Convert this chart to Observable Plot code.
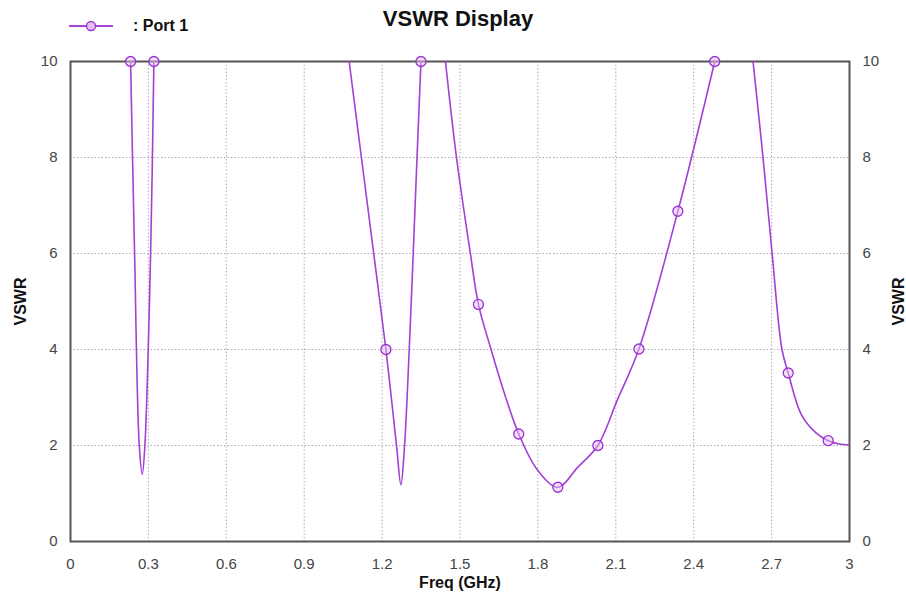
<!DOCTYPE html>
<html>
<head>
<meta charset="utf-8">
<script src="https://cdn.jsdelivr.net/npm/d3@7"></script>
<script src="https://cdn.jsdelivr.net/npm/@observablehq/plot@0.6"></script>
<style>
  html, body { margin: 0; padding: 0; background: #fff; }
  #wrap { position: relative; width: 906px; height: 596px; font-family: "Liberation Sans", Arial, sans-serif; }
  #title { position: absolute; left: 0; width: 916px; top: 6px; text-align: center; font-size: 22px; font-weight: bold; color: #111; }
  #legend { position: absolute; left: 68px; top: 17px; display: flex; align-items: center; font-size: 16px; font-weight: bold; color: #111; }
  #chart svg g[aria-label="x-axis label"] text,
  #chart svg g[aria-label="y-axis label"] text { font-weight: bold; fill: #111; font-size: 16px; }
</style>
</head>
<body>
<div id="wrap">
  <div id="chart"></div>
  <div id="title">VSWR Display</div>
  <div id="legend">
    <svg width="46" height="18"><line x1="1" y1="9" x2="45" y2="9" stroke="#a746d8" stroke-width="1.8"/><circle cx="23" cy="9" r="4.5" fill="#e3c2f2" stroke="#9b30d0" stroke-width="1.3"/></svg>
    <span style="margin-left:19px">: Port 1</span>
  </div>
</div>
<script>
// Curve (NaN breaks where the trace leaves the 0–10 display range)
const freq = [0.2314, 0.2468, 0.2649, 0.2765, 0.2865, 0.3085, 0.3212, 0.70,
              1.0732, 1.1203, 1.1677, 1.2147, 1.2555, 1.2725, 1.2865, 1.3045, 1.3198, 1.3345, 1.3497, 1.40,
              1.444, 1.4865, 1.540, 1.571, 1.6196, 1.669, 1.7263, 1.797, 1.8767, 1.954, 2.031, 2.106, 2.189, 2.339, 2.481, 2.55,
              2.6285, 2.667, 2.702, 2.74, 2.764, 2.815, 2.87, 2.918, 2.96, 3.0];
const vswr = [10, 6, 2, 1.40, 2, 6, 10, NaN,
              10, 8, 6, 4, 2, 1.18, 2, 4, 6, 8, 10, NaN,
              10, 8, 6, 4.94, 4.0, 3.12, 2.24, 1.50, 1.13, 1.55, 2.0, 2.95, 4.01, 6.88, 10, NaN,
              10, 8, 6, 4, 3.51, 2.64, 2.27, 2.10, 2.03, 2.01];
const markerFreq = [0.2314, 0.3212, 1.2147, 1.3497, 1.571, 1.7263, 1.8767, 2.031, 2.189, 2.339, 2.481, 2.764, 2.918];
const markerVswr = [10, 10, 4.0, 10, 4.94, 2.24, 1.13, 2.0, 4.01, 6.88, 10, 3.51, 2.10];
const xTicks = [0, 0.3, 0.6, 0.9, 1.2, 1.5, 1.8, 2.1, 2.4, 2.7, 3];
const yTicks = [0, 2, 4, 6, 8, 10];

const curve = freq.map((f, i) => ({f, v: vswr[i]}));
const markers = markerFreq.map((f, i) => ({f, v: markerVswr[i]}));
const purple = "#a040d6";

const chart = Plot.plot({
  width: 906,
  height: 596,
  marginLeft: 70,
  marginRight: 57,
  marginTop: 61,
  marginBottom: 55,
  style: {fontFamily: "Liberation Sans, Arial, sans-serif", fontSize: "15px", color: "#444", background: "#fff"},
  x: {domain: [0, 3]},
  y: {domain: [0, 10]},
  marks: [
    Plot.gridX(xTicks, {stroke: "#9a9a9a", strokeOpacity: 0.8, strokeDasharray: "1.5,2"}),
    Plot.gridY(yTicks, {stroke: "#9a9a9a", strokeOpacity: 0.8, strokeDasharray: "1.5,2"}),
    Plot.axisX({ticks: xTicks, tickSize: 0, tickPadding: 17, tickFormat: d3.format("~g"), label: "Freq (GHz)", labelArrow: "none", labelAnchor: "center", labelOffset: 46}),
    Plot.axisY({ticks: yTicks, tickSize: 0, tickPadding: 13, label: "VSWR", labelArrow: "none", labelAnchor: "center", labelOffset: 56, anchor: "left"}),
    Plot.axisY({ticks: yTicks, tickSize: 0, tickPadding: 13, label: "VSWR", labelArrow: "none", labelAnchor: "center", labelOffset: 54, anchor: "right"}),
    Plot.frame({stroke: "#555", strokeWidth: 2}),
    Plot.line(curve, {x: "f", y: "v", stroke: purple, strokeWidth: 1.6, curve: "catmull-rom"}),
    Plot.dot(markers, {x: "f", y: "v", r: 5, stroke: "#9b30d0", strokeWidth: 1.3, fill: "#e3c2f2", fillOpacity: 0.5})
  ]
});
document.getElementById("chart").appendChild(chart);
</script>
</body>
</html>
